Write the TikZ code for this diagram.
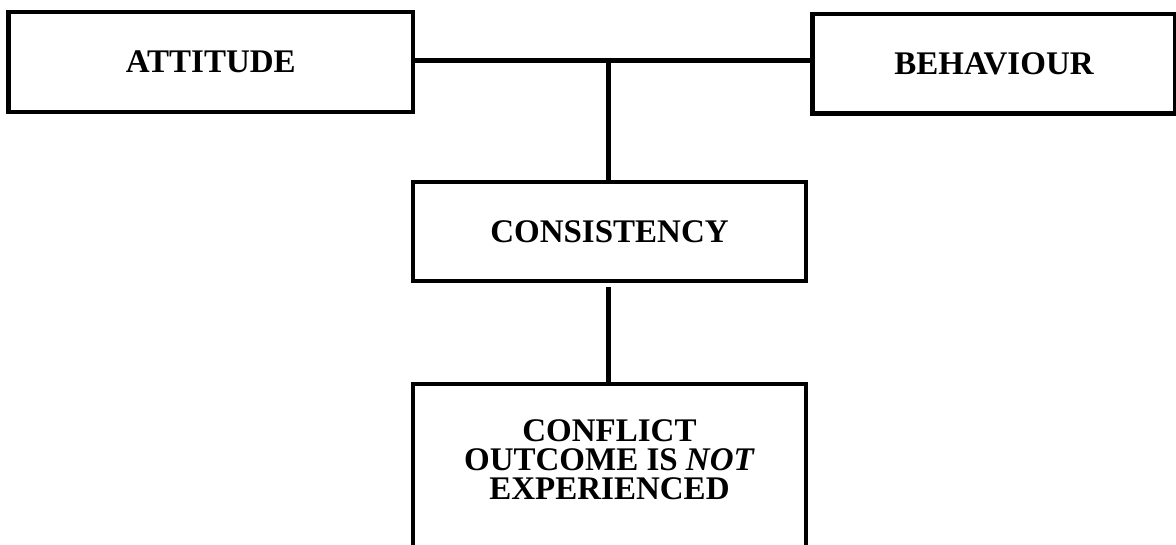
\documentclass[tikz,border=0pt]{standalone}
\usepackage{fontspec}
\setmainfont{Liberation Serif}
\begin{document}
\begin{tikzpicture}[x=1pt,y=-1pt,
  box/.style={draw, line width=4.5pt, inner sep=0pt,
    font=\fontsize{33}{29}\selectfont\bfseries, align=center},
  caption/.style={inner sep=0pt, font=\fontsize{33}{29}\selectfont\bfseries, align=center},
  link/.style={line width=4.5pt}]
\clip (0,0) rectangle (1176,544);

% top row
\node[box, minimum width=404.5pt, minimum height=100pt] (attitude) at (210.75,62) {ATTITUDE};
\node[box, minimum width=363pt, minimum height=99.5pt] (behaviour) at (994,63.75) {BEHAVIOUR};

% middle and bottom boxes
\node[box, minimum width=393pt, minimum height=99pt] (consistency) at (609.5,231.5) {CONSISTENCY};
\node[box, minimum width=393pt, minimum height=200pt] (conflict) at (609.5,484) {};
\node[caption] (conflicttext) at (609.5,459.5) {CONFLICT\\OUTCOME IS \textit{NOT}\\EXPERIENCED};

% connectors
\coordinate (junction) at (608.5,60.5);
\draw[link] (attitude.east |- junction) -- (behaviour.west |- junction);
\draw[link] (junction) -- (junction |- consistency.north);
\draw[link, shorten <=4pt] (junction |- consistency.south) -- (junction |- conflict.north);
\end{tikzpicture}
\end{document}
